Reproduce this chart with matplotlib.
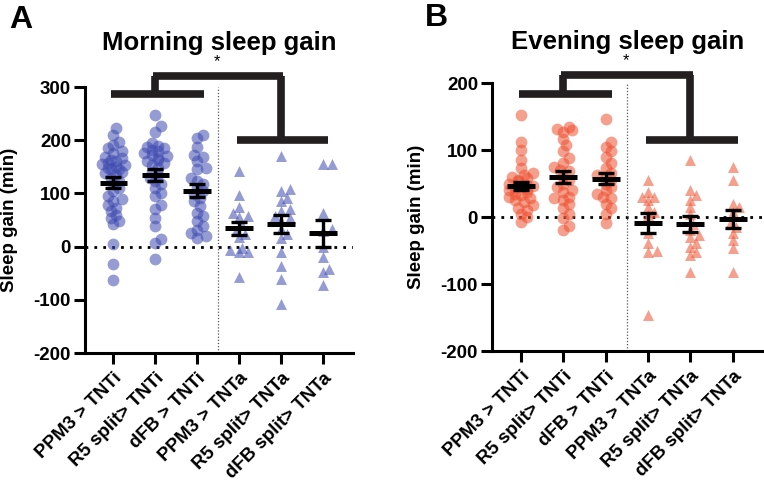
import numpy as np
import matplotlib
matplotlib.use("Agg")
import matplotlib.pyplot as plt

plt.rcParams['font.family'] = ['Liberation Sans', 'DejaVu Sans']
plt.rcParams['font.weight'] = 'bold'

categories = ["PPM3 > TNTi", "R5 split> TNTi", "dFB > TNTi",
              "PPM3 > TNTa", "R5 split> TNTa", "dFB split> TNTa"]

morning_ppm3_tnti = [222, 210, 197, 191, 185, 179, 175, 169, 166, 163, 160, 157, 155, 154, 150,
                     148, 146, 145, 141, 138, 135, 129, 123, 117, 110, 104, 95, 90, 85, 79, 73,
                     67, 60, 54, 48, 42, 4, -33, -63]
morning_r5_tnti = [247, 226, 216, 194, 190, 188, 185, 182, 179, 176, 173, 170, 166, 163, 160, 157,
                   154, 148, 141, 135, 129, 123, 117, 110, 101, 95, 79, 70, 54, 39, 14, 7, -24]
morning_dfb_tnti = [210, 204, 188, 173, 169, 160, 148, 145, 129, 123, 117, 110, 104, 98, 92, 85,
                    76, 64, 57, 48, 39, 32, 26, 20, 17]
morning_ppm3_tnta = [142, 97, 75, 64, 58, 55, 40, 30, 24, 18, -3, -7, -11, -11, -58]
morning_r5_tnta = [170, 108, 105, 92, 86, 71, 67, 58, 54, 49, 34, 24, 17, -11, -36, -60, -107]
morning_dfb_tnta = [155, 155, 64, 34, 30, -1, -20, -42, -48, -73]

evening_ppm3_tnti = [152, 112, 100, 85, 73, 65, 62, 60, 58, 55, 53, 50, 48, 47, 45, 43, 42, 40,
                     38, 35, 33, 30, 28, 25, 22, 18, 14, 10, 5, 0, -7]
evening_r5_tnti = [135, 132, 130, 127, 117, 107, 98, 88, 80, 75, 68, 60, 55, 50, 45, 38, 30, 25,
                   20, 13, 5, -2, -14, -19, 70, 40, 28]
evening_dfb_tnti = [146, 112, 105, 98, 90, 80, 73, 65, 60, 55, 50, 45, 40, 35, 28, 20, 13, 5, -9,
                    62, 30]
evening_ppm3_tnta = [55, 37, 30, 30, 25, 15, 8, 3, -24, -39, -50, -52, -146]
evening_r5_tnta = [85, 40, 33, 25, 15, 5, -10, -19, -27, -30, -39, -45, -52, -57, -82]
evening_dfb_tnta = [75, 55, 20, 15, 8, -10, -15, -24, -34, -46, -82]

morning = [morning_ppm3_tnti, morning_r5_tnti, morning_dfb_tnti,
           morning_ppm3_tnta, morning_r5_tnta, morning_dfb_tnta]
evening = [evening_ppm3_tnti, evening_r5_tnti, evening_dfb_tnti,
           evening_ppm3_tnta, evening_r5_tnta, evening_dfb_tnta]

morning_ticks = [-200, -100, 0, 100, 200, 300]
evening_ticks = [-200, -100, 0, 100, 200]

DARK = '#231f20'

fig = plt.figure(figsize=(7.64, 4.90), dpi=100)
axA = fig.add_axes([85/764, 1-353/490, (353-85)/764, (353-87)/490])
axB = fig.add_axes([492/764, 1-351/490, (764-492)/764 - 0.001, (351-83)/490])


def swarm_offsets(ax, vals, xc, diam_px=6.5, max_off=0.3):
    # simple beeswarm in pixel space (overlapping allowed like GraphPad)
    vals = np.asarray(vals, float)
    order = np.argsort(vals)
    placed = []
    offs = np.zeros(len(vals))
    x0 = ax.transData.transform((xc, 0))[0]
    px_per_cat = ax.transData.transform((xc + 1, 0))[0] - x0
    cands = [0.0]
    for k in range(1, 40):
        cands += [k * diam_px * 0.45, -k * diam_px * 0.45]
    for n, i in enumerate(order):
        ypx = ax.transData.transform((xc, vals[i]))[1]
        best = None
        for c in cands:
            if abs(c) / px_per_cat > max_off:
                continue
            if all((px - c) ** 2 + (py - ypx) ** 2 >= diam_px ** 2 for px, py in placed):
                best = c
                break
        if best is None:
            best = cands[1 + (n % 4)]
        placed.append((best, ypx))
        offs[i] = best / px_per_cat
    return offs


def draw_panel(ax, groups, ticks, color, ylim, bars, star_y):
    ax.set_xlim(-0.68, 5.72)
    ax.set_ylim(*ylim)
    fig.canvas.draw()
    for gi, vals in enumerate(groups):
        marker = 'o' if gi < 3 else '^'
        size = 72 if gi < 3 else 62
        offs = swarm_offsets(ax, vals, gi)
        ax.scatter(gi + offs, vals, s=size, marker=marker, color=color,
                   alpha=0.55, linewidths=0, zorder=2)
        m = np.mean(vals)
        sem = np.std(vals, ddof=1) / np.sqrt(len(vals))
        ax.plot([gi - 0.33, gi + 0.33], [m, m], color='black', lw=3.6,
                solid_capstyle='butt', zorder=4)
        ax.errorbar([gi], [m], yerr=[sem], color='black', lw=2.4, capsize=6,
                    capthick=2.4, zorder=4)
    ax.axhline(0, color='black', lw=2, linestyle=(0, (1, 2.2)), zorder=1)
    ax.plot([2.5, 2.5], [ylim[0], ylim[1]], color='#555555', lw=0.9,
            linestyle=(0, (1, 1.5)), zorder=1, clip_on=False)
    # significance brackets
    left_y, top_y, right_y = bars
    lw = 5.5
    kw = dict(color=DARK, lw=lw, solid_capstyle='butt', clip_on=False, zorder=5)
    ax.plot([-0.05, 2.15], [left_y, left_y], **kw)
    ax.plot([2.95, 5.12], [right_y, right_y], **kw)
    ax.plot([1.0, 1.0], [left_y, top_y], **kw)
    ax.plot([4.0, 4.0], [right_y, top_y], **kw)
    ax.plot([1.0 - 0.06, 4.0 + 0.06], [top_y, top_y], **kw)
    ax.text(2.47, star_y, '*', ha='center', va='center', fontsize=12,
            fontweight='normal', clip_on=False)

    ax.set_yticks(ticks)
    ax.set_yticklabels([str(t) for t in ticks], fontsize=13.5, fontweight='bold')
    ax.set_xticks(range(len(categories)))
    ax.set_xticklabels(categories, rotation=45, ha='right', va='top',
                       rotation_mode='anchor', fontsize=13.5, fontweight='bold')
    for s in ['top', 'right']:
        ax.spines[s].set_visible(False)
    for s in ['left', 'bottom']:
        ax.spines[s].set_linewidth(2.2)
        ax.spines[s].set_color('black')
    ax.tick_params(axis='both', width=2.2, length=8, color='black', pad=2)
    ax.tick_params(axis='x', pad=4)
    ax.set_ylabel('Sleep gain (min)', fontsize=13.5, fontweight='bold', labelpad=11)


draw_panel(axA, morning, morning_ticks, '#3f4bb1', (-200, 300), (286, 320, 200), 348)
draw_panel(axB, evening, evening_ticks, '#ee5030', (-200, 200), (183, 212, 115), 234)

fig.text((85 + 353) / 2 / 764, 1 - 43 / 490, 'Morning sleep gain', ha='center', va='center',
         fontsize=18.5, fontweight='bold')
fig.text((492 + 764) / 2 / 764, 1 - 42 / 490, 'Evening sleep gain', ha='center', va='center',
         fontsize=18.5, fontweight='bold')
fig.text(9 / 764, 1 - 5 / 490, 'A', ha='left', va='top', fontsize=23, fontweight='bold')
fig.text(425 / 764, 1 - 3 / 490, 'B', ha='left', va='top', fontsize=23, fontweight='bold')

fig.savefig('out.png', dpi=100)
